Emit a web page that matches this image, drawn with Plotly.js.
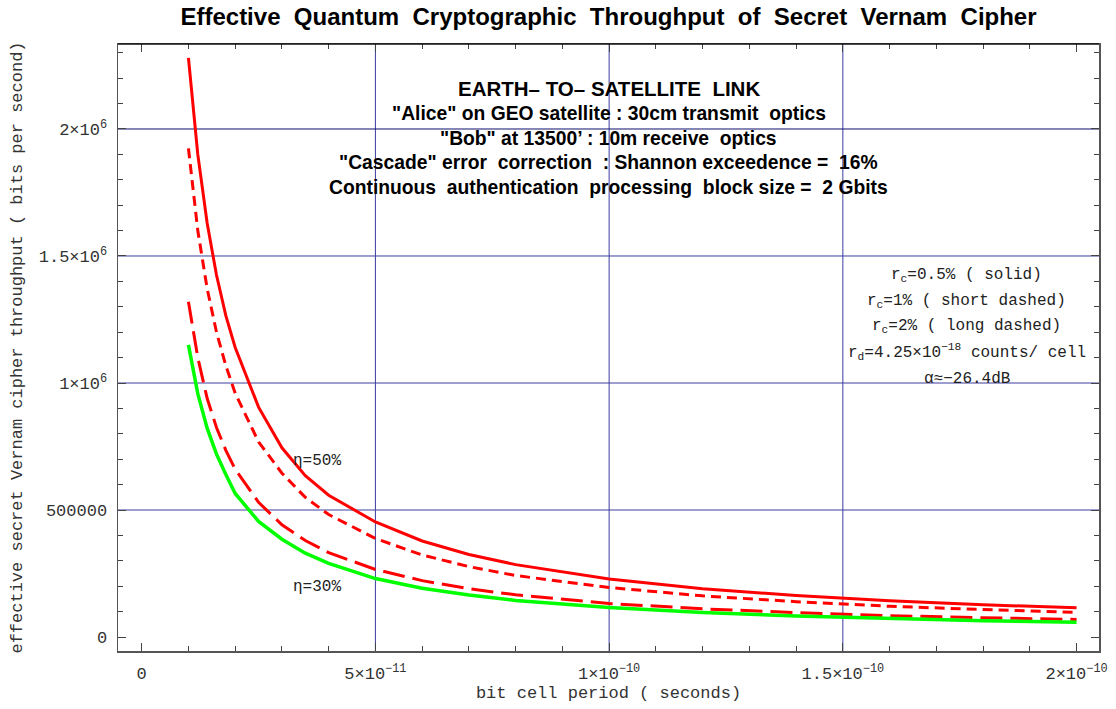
<!DOCTYPE html>
<html>
<head>
<meta charset="utf-8">
<script src="https://cdn.plot.ly/plotly-3.0.1.min.js"></script>
<style>html,body{margin:0;padding:0;background:#fff;}#chart{width:1116px;height:709px;}</style>
</head>
<body>
<div id="chart"></div>
<script>
// bit cell period (seconds)
const period = [1e-11, 1.2e-11, 1.4e-11, 1.6e-11, 1.8e-11, 2e-11, 2.5e-11, 3e-11, 3.5e-11, 4e-11,
                5e-11, 6e-11, 7e-11, 8e-11, 1e-10, 1.2e-10, 1.4e-10, 1.6e-10, 1.8e-10, 2e-10];
// effective throughput (bits per second)
const eta50_rc05 = [2280000, 1900000, 1630000, 1425000, 1265000, 1140000, 905000, 745000, 635000, 558000,
                    453000, 378000, 325000, 285000, 228000, 190000, 163000, 143000, 127000, 115000];
const eta50_rc1  = [1924000, 1600000, 1372000, 1200000, 1068000, 960000, 768000, 645000, 550000, 482000,
                    388000, 323000, 277000, 242000, 195000, 162000, 139000, 121000, 108000, 97000];
const eta50_rc2  = [1320000, 1100000, 940000, 825000, 735000, 660000, 530000, 442000, 380000, 332000,
                    266000, 222000, 190000, 166000, 132000, 111000, 96000, 84000, 76000, 69000];
const eta30_rc05 = [1150000, 958000, 822000, 720000, 640000, 565000, 455000, 385000, 330000, 290000,
                    230000, 192000, 165000, 144000, 116000, 96000, 83000, 72000, 64000, 58000];

const xTickVals = [0, 5e-11, 1e-10, 1.5e-10, 2e-10];
const xTickText = ['0', '5×10<sup>−11</sup>', '1×10<sup>−10</sup>', '1.5×10<sup>−10</sup>', '2×10<sup>−10</sup>'];
const yTickVals = [0, 500000, 1000000, 1500000, 2000000];
const yTickText = ['0', '500000', '1×10<sup>6</sup>', '1.5×10<sup>6</sup>', '2×10<sup>6</sup>'];
const xGrid = [5e-11, 1e-10, 1.5e-10];
const yGrid = [500000, 1000000, 1500000, 2000000];

const infoLines = [
  'EARTH\u2013\u00a0TO\u2013\u00a0SATELLITE\u00a0 LINK',
  '"Alice" on GEO satellite : 30cm transmit\u00a0 optics',
  '"Bob" at 13500\u2019 : 10m receive\u00a0 optics',
  '"Cascade" error\u00a0 correction\u00a0 : Shannon exceedence = \u00a016%',
  'Continuous\u00a0 authentication\u00a0 processing\u00a0 block size = \u00a02 Gbits'
];
const paramLines = [
  'r<sub>c</sub>=0.5% (\u00a0solid)',
  'r<sub>c</sub>=1% (\u00a0short dashed)',
  'r<sub>c</sub>=2% (\u00a0long dashed)',
  'r<sub>d</sub>=4.25×10<sup>−18</sup> counts/\u00a0cell',
  'α≈−26.4dB'
];

const mono = 'Liberation Mono, Courier New, monospace';
const sans = 'Liberation Sans, Arial, sans-serif';

const traces = [
  {x: period, y: eta50_rc05, mode: 'lines', line: {color: '#ff0000', width: 3}},
  {x: period, y: eta50_rc1,  mode: 'lines', line: {color: '#ff0000', width: 3, dash: '10px,6px'}},
  {x: period, y: eta50_rc2,  mode: 'lines', line: {color: '#ff0000', width: 3, dash: '22px,8px'}},
  {x: period, y: eta30_rc05, mode: 'lines', line: {color: '#00ff00', width: 3.5}}
];

const shapes = [];
xGrid.forEach(v => shapes.push({type: 'line', xref: 'x', yref: 'paper', x0: v, x1: v, y0: 0, y1: 1,
  line: {color: '#3c3ca0', width: 1}, layer: 'below'}));
yGrid.forEach(v => shapes.push({type: 'line', xref: 'paper', yref: 'y', x0: 0, x1: 1, y0: v, y1: v,
  line: {color: v === 2000000 ? '#101070' : '#3c3ca0', width: 1}, layer: 'below'}));
// darker top frame
shapes.push({type: 'line', xref: 'paper', yref: 'paper', x0: 0, x1: 1, y0: 1, y1: 1,
  line: {color: '#111', width: 1.5}, layer: 'above'});

const annotations = [];
const infoY = [0.9275, 0.8863, 0.8451, 0.8040, 0.7628];
infoLines.forEach((t, i) => annotations.push({text: '<b>' + t + '</b>', xref: 'paper', yref: 'paper',
  x: 0.5, y: infoY[i], xanchor: 'center', yanchor: 'middle', showarrow: false,
  font: {family: sans, size: i === 0 ? 20.5 : 19.3, color: '#000'}}));
const paramY = [0.6178, 0.5750, 0.5338, 0.4926, 0.4481];
paramLines.forEach((t, i) => annotations.push({text: t, xref: 'paper', yref: 'paper',
  x: 0.8654, y: paramY[i], xanchor: 'center', yanchor: 'middle', showarrow: false,
  font: {family: mono, size: 16, color: '#222'}}));
annotations.push({text: 'η=50%', xref: 'paper', yref: 'paper', x: 0.2025, y: 0.3135,
  xanchor: 'center', yanchor: 'middle', showarrow: false, font: {family: mono, size: 16, color: '#222'}});
annotations.push({text: 'η=30%', xref: 'paper', yref: 'paper', x: 0.2025, y: 0.1054,
  xanchor: 'center', yanchor: 'middle', showarrow: false, font: {family: mono, size: 16, color: '#222'}});

const layout = {
  width: 1116, height: 709,
  margin: {l: 118, r: 17, t: 44, b: 58},
  paper_bgcolor: '#fff', plot_bgcolor: '#fff',
  showlegend: false,
  title: {text: '<b>Effective\u00a0 Quantum\u00a0 Cryptographic\u00a0 Throughput\u00a0 of\u00a0 Secret\u00a0 Vernam\u00a0 Cipher</b>',
    x: 0.5, xref: 'paper', y: 0.976, yref: 'container', yanchor: 'middle',
    font: {family: sans, size: 24, color: '#000'}},
  xaxis: {
    range: [-5.07e-12, 2.048e-10], showgrid: false, zeroline: false,
    tickmode: 'array', tickvals: xTickVals, ticktext: xTickText,
    ticks: 'inside', ticklen: 8, tickwidth: 1, tickcolor: '#444',
    showline: true, linecolor: '#555', linewidth: 1.5, mirror: 'ticks',
    minor: {tickmode: 'linear', tick0: 0, dtick: 1e-11, ticks: 'inside', ticklen: 5, tickcolor: '#444', tickwidth: 1},
    tickfont: {family: mono, size: 17, color: '#333'}, ticklabelstandoff: 6,
    title: {text: 'bit cell period (\u00a0seconds)', font: {family: mono, size: 17, color: '#333'}, standoff: 3}
  },
  yaxis: {
    range: [-55100, 2334600], showgrid: false, zeroline: false,
    tickmode: 'array', tickvals: yTickVals, ticktext: yTickText,
    ticks: 'inside', ticklen: 8, tickwidth: 1, tickcolor: '#444',
    showline: true, linecolor: '#555', linewidth: 1.5, mirror: 'ticks',
    minor: {tickmode: 'linear', tick0: 0, dtick: 100000, ticks: 'inside', ticklen: 5, tickcolor: '#444', tickwidth: 1},
    tickfont: {family: mono, size: 17, color: '#333'}, ticklabelstandoff: 6,
    title: {text: 'effective secret Vernam cipher throughput (\u00a0bits per second)', font: {family: mono, size: 17, color: '#333'}, standoff: 12}
  },
  shapes: shapes,
  annotations: annotations
};

Plotly.newPlot('chart', traces, layout, {staticPlot: true, displayModeBar: false});
</script>
</body>
</html>
